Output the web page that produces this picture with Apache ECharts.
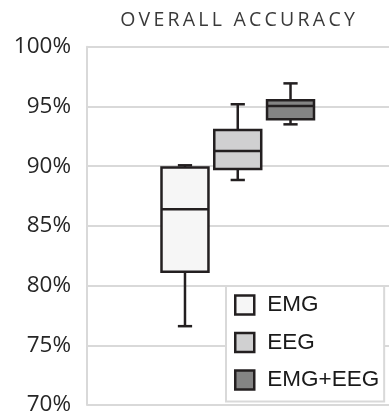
<!DOCTYPE html>
<html>
<head>
<meta charset="utf-8">
<script src="https://cdn.jsdelivr.net/npm/echarts@6/dist/echarts.min.js"></script>
<style>
  html, body { margin: 0; padding: 0; background: #ffffff; }
  #chart { width: 389px; height: 418px; }
</style>
</head>
<body>
<div id="chart"></div>
<script>
// Overall accuracy distributions (fractions) per input modality
const categories = ['EMG', 'EEG', 'EMG+EEG'];
// [lower whisker, Q1, median, Q3, upper whisker]
const emgStats    = [0.766, 0.8115, 0.864, 0.8988, 0.9007];
const eegStats    = [0.8884, 0.8976, 0.9126, 0.9302, 0.9518];
const comboStats  = [0.935, 0.9392, 0.9503, 0.9552, 0.9693];
const yTicks = [0.70, 0.75, 0.80, 0.85, 0.90, 0.95, 1.00];

const fills = ['#f6f6f6', '#d0d0d1', '#848484'];
const edge = '#231f20';
const statsList = [emgStats, eegStats, comboStats];

// letter-spaced heading
const TXT = '\u2009';
const titleText = 'OVERALL'.split('').join(TXT) + ' ' + TXT + TXT + 'ACCURACY'.split('').join(TXT);

function boxRenderer(params, api) {
  const x = api.value(0);
  const lo = api.coord([x, api.value(1)]);
  const q1 = api.coord([x, api.value(2)]);
  const md = api.coord([x, api.value(3)]);
  const q3 = api.coord([x, api.value(4)]);
  const hi = api.coord([x, api.value(5)]);
  const band = api.size([1, 0])[0];
  const bw = band * 0.89;
  const cw = band * 0.27;
  const cx = lo[0];
  const lineStyle = { stroke: edge, lineWidth: 2.5, fill: null };
  return {
    type: 'group',
    children: [
      { type: 'line', shape: { x1: cx, y1: q1[1], x2: cx, y2: lo[1] }, style: lineStyle },
      { type: 'line', shape: { x1: cx, y1: q3[1], x2: cx, y2: hi[1] }, style: lineStyle },
      { type: 'line', shape: { x1: cx - cw / 2, y1: lo[1], x2: cx + cw / 2, y2: lo[1] }, style: lineStyle },
      { type: 'line', shape: { x1: cx - cw / 2, y1: hi[1], x2: cx + cw / 2, y2: hi[1] }, style: lineStyle },
      { type: 'rect', shape: { x: cx - bw / 2, y: q3[1], width: bw, height: q1[1] - q3[1] },
        style: { fill: api.visual('color'), stroke: edge, lineWidth: 2.5 } },
      { type: 'line', shape: { x1: cx - bw / 2, y1: md[1], x2: cx + bw / 2, y2: md[1] }, style: lineStyle }
    ]
  };
}

const chart = echarts.init(document.getElementById('chart'), null, { renderer: 'canvas' });

const option = {
  animation: false,
  backgroundColor: '#ffffff',
  graphic: [{
    type: 'text',
    x: 237.5,
    y: 20.5,
    style: {
      text: titleText,
      textAlign: 'center',
      textVerticalAlign: 'middle',
      fontFamily: 'Open Sans',
      fontSize: 19.5,
      fill: '#3a3a3a'
    }
  }],
  grid: [
    { left: 87, right: 0, top: 46.7, bottom: 13, containLabel: false },
    { left: 158.6, right: 72.1, top: 46.7, bottom: 13, containLabel: false }
  ],
  xAxis: [
    { type: 'category', gridIndex: 0, data: [''], show: false },
    { type: 'category', gridIndex: 1, data: categories, show: false }
  ],
  yAxis: [
    {
      type: 'value', gridIndex: 0,
      min: yTicks[0], max: yTicks[yTicks.length - 1], interval: 0.05,
      axisLine: { show: true, lineStyle: { color: '#d9d9d9', width: 2 } },
      axisTick: { show: false },
      splitLine: { show: true, lineStyle: { color: '#d9d9d9', width: 2 } },
      axisLabel: {
        margin: 16,
        fontFamily: 'Open Sans',
        fontSize: 22.5,
        color: '#262626',
        formatter: v => Math.round(v * 100) + '%'
      }
    },
    {
      type: 'value', gridIndex: 1,
      min: yTicks[0], max: yTicks[yTicks.length - 1], interval: 0.05,
      show: false, splitLine: { show: false }
    }
  ],
  legend: {
    orient: 'vertical',
    left: 226,
    top: 286,
    padding: [7.5, 5, 10, 8],
    borderColor: '#d9d9d9',
    borderWidth: 2,
    backgroundColor: '#ffffff',
    itemWidth: 19,
    itemHeight: 19,
    itemGap: 14.5,
    icon: 'rect',
    textStyle: {
      fontFamily: 'Liberation Sans',
      fontSize: 22.5,
      lineHeight: 22,
      color: '#1a1a1a',
      padding: [0, 0, 0, 8]
    },
    data: categories.map((name, i) => ({
      name,
      itemStyle: { color: fills[i], borderColor: edge, borderWidth: 2.5 }
    }))
  },
  series: categories.map((name, i) => ({
    name,
    type: 'custom',
    xAxisIndex: 1,
    yAxisIndex: 1,
    itemStyle: { color: fills[i], borderColor: edge, borderWidth: 2.5 },
    encode: { x: 0, y: [1, 2, 3, 4, 5] },
    renderItem: boxRenderer,
    data: [[i].concat(statsList[i])]
  }))
};

chart.setOption(option);
</script>
</body>
</html>
